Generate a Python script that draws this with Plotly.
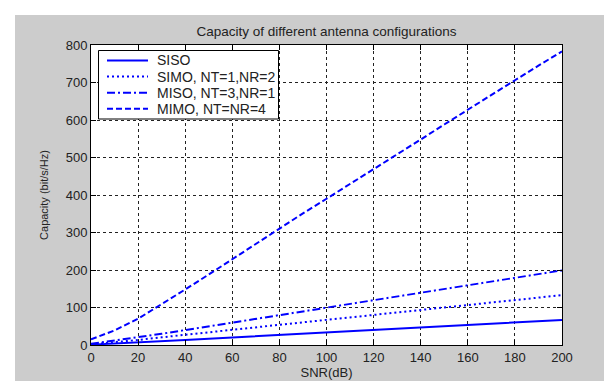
import plotly.graph_objects as go

snr_db = [0, 10, 20, 30, 40, 50, 60, 70, 80, 90, 100, 110, 120, 130, 140, 150, 160, 170, 180, 190, 200]
siso = [1, 3.7, 7, 10.3, 13.6, 17, 20.4, 23.7, 27, 30.3, 33.6, 36.9, 40.2, 43.5, 46.8, 50.1, 53.4, 56.7, 60, 63.3, 66.6]
simo = [1.6, 7, 13.5, 20.5, 27.5, 34, 40.5, 47.5, 54.5, 60.5, 67, 73.5, 80, 86.5, 93, 100, 106, 113, 120, 126, 133]
miso = [3, 11, 21, 30, 40, 49.5, 59, 69, 79, 89, 99, 109, 119, 129, 139, 149, 159, 169, 179, 189, 199]
mimo = [15, 39, 70, 108, 148, 188, 229, 270, 312, 351, 390, 429, 468, 508, 548, 588, 628, 667, 706, 745, 783]
names = ["SISO", "SIMO, NT=1,NR=2", "MISO, NT=3,NR=1", "MIMO, NT=NR=4"]
x_ticks = [0, 20, 40, 60, 80, 100, 120, 140, 160, 180, 200]
y_ticks = [0, 100, 200, 300, 400, 500, 600, 700, 800]
dashes = ["solid", "2px,3px", "8px,3px,2px,3px", "6px,3px"]

FONT = "Liberation Sans, Arial, sans-serif"
TXT = "#222222"
BLUE = "#0000FF"
LW = 2

fig = go.Figure()
for ys, nm, dash in zip([siso, simo, miso, mimo], names, dashes):
    fig.add_trace(go.Scatter(x=snr_db, y=ys, mode="lines", name=nm, showlegend=False,
                             line=dict(color=BLUE, width=LW, dash=dash)))

W, H = 612, 381
L, R, T, B = 83, 58, 37, 44
pw, ph = W - L - R, H - T - B

def px_x(px):
    return (px - L) / pw

def px_y(py):
    return (H - B - py) / ph

shapes = [
    # white strips top/left/right
    dict(type="rect", xref="paper", yref="paper", x0=px_x(0), x1=px_x(W), y0=px_y(7), y1=px_y(0),
         fillcolor="white", line=dict(width=0), layer="above"),
    dict(type="rect", xref="paper", yref="paper", x0=px_x(0), x1=px_x(7), y0=px_y(H), y1=px_y(0),
         fillcolor="white", line=dict(width=0), layer="above"),
    dict(type="rect", xref="paper", yref="paper", x0=px_x(610), x1=px_x(W), y0=px_y(H), y1=px_y(0),
         fillcolor="white", line=dict(width=0), layer="above"),
    # light blue strip at bottom
    dict(type="rect", xref="paper", yref="paper", x0=px_x(0), x1=px_x(W), y0=px_y(H), y1=px_y(378),
         fillcolor="#D6E4F2", line=dict(width=0), layer="above"),
    # darker borders of gray panel
    dict(type="line", xref="paper", yref="paper", x0=px_x(609.5), x1=px_x(609.5), y0=px_y(378), y1=px_y(7),
         line=dict(color="#9A9A9A", width=1), layer="above"),
    dict(type="line", xref="paper", yref="paper", x0=px_x(7), x1=px_x(610), y0=px_y(377.5), y1=px_y(377.5),
         line=dict(color="#9A9A9A", width=1), layer="above"),
    # legend box
    dict(type="rect", xref="paper", yref="paper", x0=px_x(90.5), x1=px_x(270.5), y0=px_y(111), y1=px_y(42.5),
         fillcolor="white", line=dict(color="black", width=1), layer="above"),
]

annotations = []
row0, row_step = 52.5, 16.1
for i, (nm, dash) in enumerate(zip(names, dashes)):
    yy = px_y(row0 + i * row_step)
    shapes.append(dict(type="line", xref="paper", yref="paper", x0=px_x(99), x1=px_x(140), y0=yy, y1=yy,
                       line=dict(color=BLUE, width=LW, dash=dash), layer="above"))
    annotations.append(dict(text=nm, xref="paper", yref="paper", x=px_x(147), y=yy,
                            xanchor="left", yanchor="middle", showarrow=False,
                            font=dict(family=FONT, size=14, color=TXT)))

axis_common = dict(
    showline=True, linecolor="black", linewidth=1, mirror="ticks",
    ticks="inside", ticklen=5, tickcolor="black",
    showgrid=True, gridcolor="#222222", gridwidth=1, griddash="3px,3px",
    zeroline=False,
    tickfont=dict(family=FONT, size=13, color=TXT),
)

fig.update_layout(
    width=W, height=H,
    margin=dict(l=L, r=R, t=T, b=B, pad=0),
    paper_bgcolor="#CCCCCC",
    plot_bgcolor="white",
    title=dict(text="Capacity of different antenna configurations",
               x=0.5, xref="paper", y=1 - 23 / H, yref="container",
               xanchor="center", yanchor="middle",
               font=dict(family=FONT, size=13.5, color=TXT)),
    xaxis=dict(range=[0, 200], tickvals=x_ticks,
               title=dict(text="SNR(dB)", font=dict(family=FONT, size=13, color=TXT), standoff=4),
               **axis_common),
    yaxis=dict(range=[0, 800], tickvals=y_ticks,
               title=dict(text="Capacity (bit/s/Hz)", font=dict(family=FONT, size=11, color=TXT), standoff=14),
               **axis_common),
    shapes=shapes,
    annotations=annotations,
    showlegend=False,
)

fig.write_html("out.html")
